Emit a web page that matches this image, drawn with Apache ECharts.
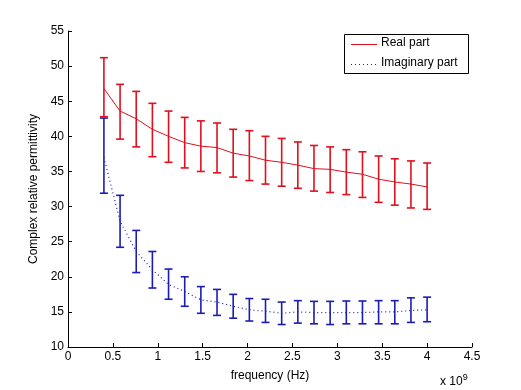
<!DOCTYPE html>
<html><head><meta charset="utf-8">
<script src="https://cdn.jsdelivr.net/npm/echarts@6/dist/echarts.min.js"></script>
<style>html,body{margin:0;padding:0;background:#fff}#c{width:521px;height:390px}</style>
</head><body><div id="c"></div>
<script>
var freq = [0.4,0.58,0.76,0.94,1.12,1.3,1.48,1.66,1.84,2.02,2.2,2.38,2.56,2.74,2.92,3.1,3.28,3.46,3.64,3.82,4.0];
var realMean = [46.8,43.6,42.5,41.0,40.0,39.1,38.6,38.4,37.6,37.2,36.6,36.3,35.9,35.4,35.3,34.9,34.6,33.9,33.5,33.2,32.8];
var realHigh = [51.2,47.4,46.4,44.7,43.6,42.7,42.2,41.9,41.0,40.8,40.0,39.7,39.2,38.7,38.5,38.1,37.8,37.2,36.8,36.5,36.2];
var realLow  = [42.8,39.6,38.5,37.1,36.3,35.5,35.0,34.8,34.2,33.7,33.2,32.9,32.6,32.2,32.0,31.7,31.3,30.6,30.2,29.8,29.6];
var imagMean = [37.0,27.9,23.6,21.0,18.9,17.9,16.7,16.4,15.8,15.3,15.1,14.8,15.0,14.9,14.9,14.9,14.9,15.0,15.0,15.2,15.3];
var imagHigh = [42.6,31.6,26.6,23.6,21.1,20.0,18.6,18.2,17.5,16.9,16.8,16.4,16.6,16.5,16.5,16.55,16.55,16.6,16.6,17.0,17.1];
var imagLow  = [31.9,24.2,20.6,18.4,16.8,15.8,14.8,14.5,14.1,13.7,13.5,13.2,13.4,13.3,13.2,13.3,13.3,13.3,13.3,13.5,13.6];
var xTicks = {min:0, max:4.5, interval:0.5};
var yTicks = {min:10, max:55, interval:5};
var names = ['Real part','Imaginary part'];

var RED = '#e0101e', BLUE = '#1c1cb4';
function pairs(xs, ys){ return xs.map(function(x,i){return [x, ys[i]];}); }
function errData(lo, hi){ return freq.map(function(x,i){return [x, lo[i], hi[i]];}); }
function errRender(color){
  return function(params, api){
    var x = api.value(0);
    var lo = api.coord([x, api.value(1)]);
    var hi = api.coord([x, api.value(2)]);
    var w = 4;
    var st = {stroke: color, lineWidth: 1.6};
    return {type:'group', children:[
      {type:'line', shape:{x1:lo[0],y1:lo[1],x2:hi[0],y2:hi[1]}, style:st},
      {type:'line', shape:{x1:lo[0]-w,y1:lo[1],x2:lo[0]+w,y2:lo[1]}, style:st},
      {type:'line', shape:{x1:hi[0]-w,y1:hi[1],x2:hi[0]+w,y2:hi[1]}, style:st}
    ]};
  };
}
var font = 'Liberation Sans, Arial, Helvetica, sans-serif';
var FS = 12;
var chart = echarts.init(document.getElementById('c'), null, {renderer:'canvas'});
chart.setOption({
  backgroundColor:'#fff',
  animation:false,
  grid:{left:68, right:49, top:31, bottom:43},
  xAxis:{type:'value', min:xTicks.min, max:xTicks.max, interval:xTicks.interval,
    axisLine:{show:true, lineStyle:{color:'#000', width:1}},
    axisTick:{show:true, inside:true, length:4, lineStyle:{color:'#000'}},
    axisLabel:{color:'#000', fontFamily:font, fontSize:FS, margin:4},
    splitLine:{show:false},
    name:'frequency (Hz)', nameLocation:'middle', nameGap:23,
    nameTextStyle:{color:'#000', fontFamily:font, fontSize:FS}},
  yAxis:{type:'value', min:yTicks.min, max:yTicks.max, interval:yTicks.interval,
    axisLine:{show:true, lineStyle:{color:'#000', width:1}},
    axisTick:{show:true, inside:true, length:4, lineStyle:{color:'#000'}},
    axisLabel:{color:'#000', fontFamily:font, fontSize:FS, margin:4},
    splitLine:{show:false},
    name:'Complex relative permittivity', nameLocation:'middle', nameGap:23,
    nameTextStyle:{color:'#000', fontFamily:font, fontSize:FS}},
  graphic:[
    {type:'text', left:440, top:373, style:{rich:{a:{fontFamily:font,fontSize:FS,fill:'#000'}, s:{fontFamily:font,fontSize:9,fill:'#000',verticalAlign:'top',padding:[0,0,8,0]}}, text:'{a|x 10}{s|9}'}},
    {type:'rect', shape:{x:344.5, y:34.5, width:124, height:39}, style:{fill:'#fff', stroke:'#000', lineWidth:1}, z:100},
    {type:'line', shape:{x1:351, y1:44.5, x2:377, y2:44.5}, style:{stroke:RED, lineWidth:1}, z:101},
    {type:'line', shape:{x1:351, y1:64.5, x2:377, y2:64.5}, style:{stroke:BLUE, lineWidth:1, lineDash:[1,3]}, z:101},
    {type:'text', left:381, top:37, style:{text:names[0], fontFamily:font, fontSize:FS, fill:'#000'}, z:101},
    {type:'text', left:381, top:57, style:{text:names[1], fontFamily:font, fontSize:FS, fill:'#000'}, z:101}
  ],
  series:[
    {type:'line', name:names[1], data:pairs(freq, imagMean), symbol:'none', lineStyle:{color:BLUE, width:1.2, type:[1,3]}, z:2},
    {type:'custom', data:errData(imagLow, imagHigh), renderItem:errRender(BLUE), encode:{x:0, y:[1,2]}, z:3},
    {type:'line', name:names[0], data:pairs(freq, realMean), symbol:'none', lineStyle:{color:RED, width:1}, z:4},
    {type:'custom', data:errData(realLow, realHigh), renderItem:errRender(RED), encode:{x:0, y:[1,2]}, z:5}
  ]
});
</script></body></html>
